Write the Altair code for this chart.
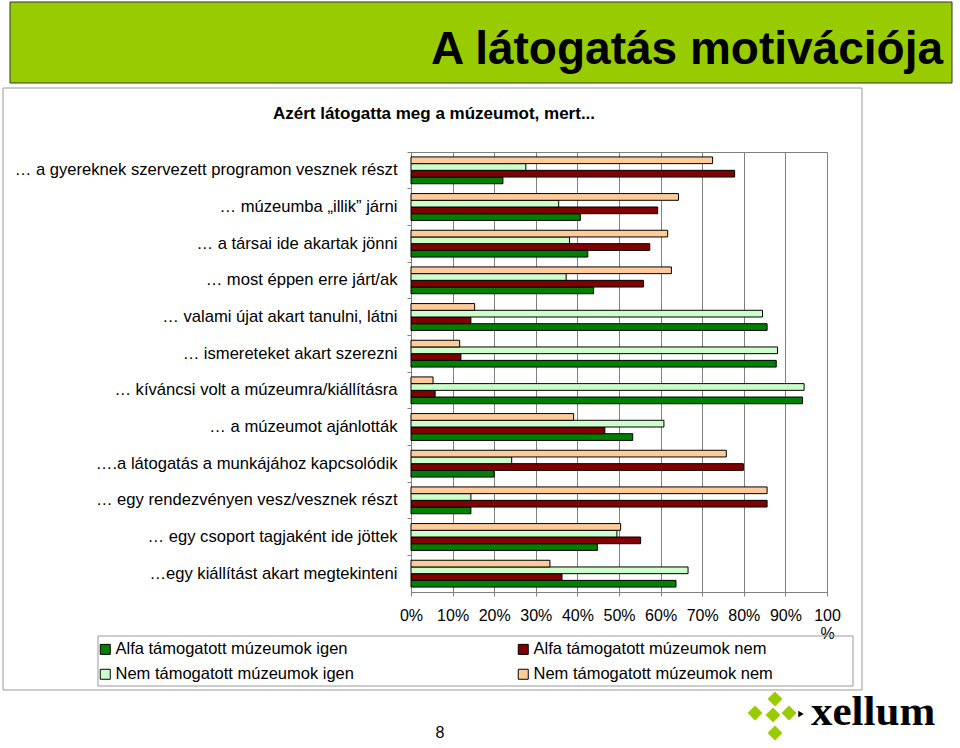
import altair as alt
import pandas as pd

categories = [
    "… a gyereknek szervezett programon vesznek részt",
    "… múzeumba „illik” járni",
    "… a társai ide akartak jönni",
    "… most éppen erre járt/ak",
    "… valami újat akart tanulni, látni",
    "… ismereteket akart szerezni",
    "… kíváncsi volt a múzeumra/kiállításra ",
    "… a múzeumot ajánlották",
    "….a látogatás a munkájához kapcsolódik",
    "… egy rendezvényen vesz/vesznek részt",
    "… egy csoport tagjaként ide jöttek",
    "…egy kiállítást akart megtekinteni",
]
series = [
    "Alfa támogatott múzeumok igen",
    "Alfa támogatott múzeumok nem",
    "Nem támogatott múzeumok igen",
    "Nem támogatott múzeumok nem",
]
alfa_igen = [22.1, 40.7, 42.5, 43.9, 85.6, 87.8, 94.1, 53.3, 20.0, 14.4, 44.8, 63.7]
alfa_nem = [77.8, 59.3, 57.4, 55.9, 14.4, 12.0, 5.8, 46.6, 79.9, 85.6, 55.2, 36.3]
nem_igen = [27.6, 35.5, 38.1, 37.3, 84.5, 88.1, 94.5, 60.8, 24.2, 14.4, 49.5, 66.6]
nem_nem = [72.5, 64.3, 61.7, 62.6, 15.3, 11.7, 5.3, 39.1, 75.8, 85.6, 50.4, 33.4]
colors = ["#008000", "#800000", "#CCFFCC", "#FFCC99"]
bar_order = [series[3], series[2], series[1], series[0]]
legend_order = [series[0], series[2], series[1], series[3]]
legend_colors = [colors[0], colors[2], colors[1], colors[3]]
x_ticks = [0, 10, 20, 30, 40, 50, 60, 70, 80, 90, 100]

title_text = "A látogatás motivációja"
subtitle_text = "Azért látogatta meg a múzeumot, mert..."
page_text = "8"
logo_text = "xellum"

rows = []
for s, vals in zip(series, [alfa_igen, alfa_nem, nem_igen, nem_nem]):
    for c, v in zip(categories, vals):
        rows.append({"kategoria": c, "sorozat": s, "ertek": v})
df = pd.DataFrame(rows)

FONT = "Liberation Sans"
W, H = 416, 440

bars = alt.Chart(df).mark_bar(stroke="black", strokeWidth=1).encode(
    x=alt.X(
        "ertek:Q",
        scale=alt.Scale(domain=[0, 100], nice=False),
        axis=alt.Axis(
            values=x_ticks,
            labelExpr="datum.value == 100 ? ['100', '%'] : datum.value + '%'",
            title=None,
            grid=True,
            gridColor="#808080",
            gridWidth=1,
            domainColor="#808080",
            tickColor="#808080",
            tickSize=4,
            labelPadding=11,
            labelFont=FONT,
            labelFontSize=16,
            labelColor="black",
            labelLineHeight=18,
            labelFlush=False,
            labelOverlap=False,
        ),
    ),
    y=alt.Y(
        "kategoria:N",
        sort=categories,
        scale=alt.Scale(paddingInner=0, paddingOuter=0),
        axis=alt.Axis(
            title=None,
            bandPosition=0,
            domainColor="#808080",
            tickColor="#808080",
            tickSize=4,
            labelPadding=10,
            labelFont=FONT,
            labelFontSize=16.6,
            labelColor="black",
            labelLimit=0,
        ),
    ),
    yOffset=alt.YOffset(
        "sorozat:N",
        sort=bar_order,
        scale=alt.Scale(paddingInner=0, paddingOuter=0.735),
    ),
    color=alt.Color(
        "sorozat:N",
        scale=alt.Scale(domain=legend_order, range=legend_colors),
        legend=alt.Legend(
            title=None,
            orient="none",
            legendX=-314,
            legendY=489,
            columns=2,
            columnPadding=161,
            rowPadding=8,
            padding=0,
            symbolType="square",
            symbolSize=100,
            symbolStrokeColor="black",
            symbolStrokeWidth=1,
            labelFont=FONT,
            labelFontSize=16.5,
            labelColor="black",
            labelOffset=2,
            labelLimit=0,
        ),
    ),
)

one = alt.Data(values=[{}])

header = alt.Chart(one).mark_rect(fill="#99CC00", stroke="#333333", strokeWidth=1).encode(
    x=alt.value(-401), x2=alt.value(541), y=alt.value(-150), y2=alt.value(-69)
)
frame = alt.Chart(one).mark_rect(fillOpacity=0, stroke="#999999", strokeWidth=1).encode(
    x=alt.value(-408), x2=alt.value(451), y=alt.value(-64), y2=alt.value(538)
)
legend_box = alt.Chart(one).mark_rect(fillOpacity=0, stroke="#999999", strokeWidth=1).encode(
    x=alt.value(-313), x2=alt.value(442), y=alt.value(484), y2=alt.value(534)
)
title = alt.Chart(one).mark_text(
    text=title_text, font=FONT, fontSize=46, fontWeight="bold", align="right",
    baseline="alphabetic", color="black"
).encode(x=alt.value(532), y=alt.value(-88))
subtitle = alt.Chart(one).mark_text(
    text=subtitle_text, font=FONT, fontSize=17, fontWeight="bold", align="center",
    baseline="middle", color="black"
).encode(x=alt.value(23), y=alt.value(-38))
page = alt.Chart(one).mark_text(
    text=page_text, font=FONT, fontSize=16, align="center", baseline="middle", color="black"
).encode(x=alt.value(29), y=alt.value(581))
logo = alt.Chart(one).mark_text(
    text=logo_text, font="Liberation Serif", fontSize=43, fontWeight="bold", align="left",
    baseline="alphabetic", color="black"
).encode(x=alt.value(400), y=alt.value(573))

diamond_layers = []
for dx, dy in [(364, 547), (344, 561), (362, 563), (378, 561), (364, 581)]:
    diamond_layers.append(
        alt.Chart(one).mark_point(shape="diamond", filled=True, color="#99CC00", size=220, opacity=1).encode(
            x=alt.value(dx), y=alt.value(dy)
        )
    )
arrow = alt.Chart(one).mark_point(shape="triangle-right", filled=True, color="black", size=40, opacity=1).encode(
    x=alt.value(390), y=alt.value(562)
)

chart = alt.layer(
    header, frame, legend_box, bars, title, subtitle, page, logo, *diamond_layers, arrow
).properties(
    width=W,
    height=H,
    padding={"left": 411, "top": 152, "right": 133, "bottom": 156},
    autosize=alt.AutoSizeParams(type="none"),
    background="white",
).configure_view(stroke="#808080", strokeWidth=1)

chart.save("out.html", embed_options={"renderer": "svg", "actions": False})
